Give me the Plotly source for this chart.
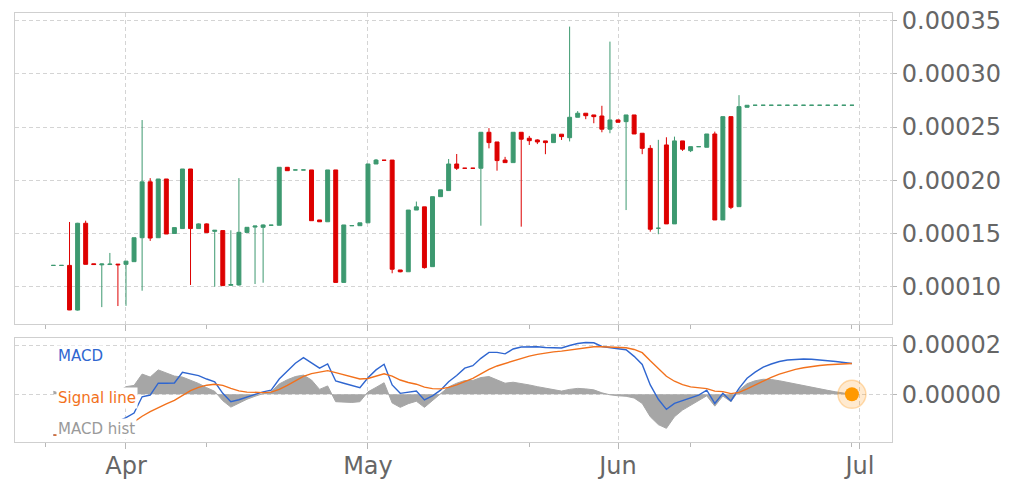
import pandas as pd
import plotly.graph_objects as go

# ---------------- data ----------------
start_date = "2023-03-23"
n_days = 100
dates = pd.date_range(start_date, periods=n_days, freq="D")

SCALE = 1e-6  # all values below are in units of 1e-6

# daily OHLC (Mar 23 .. Jun 30)
open_u = [120, 120, 120, 78, 159.6, 121.5, 120.5, 120.8, 121.2,
          121, 123.5, 146, 198.5, 146, 201.2, 150, 154.6, 210.6, 154.6,
          159, 152, 152.7, 101.3, 101.6, 151, 156, 155.8, 157.7, 157.7,
          212.2, 209.7, 209.7, 209.7, 162.7, 161, 209.7, 104, 157.3, 157.3,
          160, 215.3, 218.8, 219, 115.7, 114, 172, 175, 118.8, 184.6,
          190.3, 215.3, 211.3, 211.3, 211.3, 245.1, 236, 219, 216.6, 245.1,
          239.5, 237.9, 237, 235.4, 243.3, 240, 259.2, 263, 261.4, 260.4,
          248,
          256.7, 255.1, 261.4, 244.2, 230, 154.9, 233.2, 159, 237, 227.8,
          231.6, 231, 243.5, 162.7, 259.8, 175.2, 268.6, 270.5, 270.5, 270.5,
          270.5, 270.5, 270.5, 270.5, 270.5, 270.5, 270.5, 270.5, 270.5, 270.5]
high_u = [120, 120, 160.8, 160, 162, 121.5, 121.5, 131.7, 121.2,
          124, 146, 256.6, 202, 201.2, 201.2, 155.5, 210.6, 210.6, 159.5,
          159.5, 153, 152.7, 153, 202, 155.8, 157, 158.5, 157.9, 212.2,
          212.5, 209.7, 209.7, 209.7, 162.7, 209.7, 209.7, 158, 157.4, 160,
          215.3, 220, 218.8, 219, 115.7, 172, 180, 175, 184.6, 191,
          220, 224.7, 211.3, 211.3, 245.1, 249, 236, 222, 245.1, 245.1,
          241.7, 238.5, 237, 243.3, 243.3, 344.4, 265, 263, 261.4, 270,
          330.3,
          257, 261.4, 261.4, 244.2, 233, 238, 240.4, 241, 237, 231.6,
          231.6, 243.5, 245.7, 259.8, 259.8, 280, 270.5, 270.5, 270.5, 270.5,
          270.5, 270.5, 270.5, 270.5, 270.5, 270.5, 270.5, 270.5, 270.5, 270.5]
low_u = [120, 120, 78, 77.5, 121, 120.8, 80.8, 120.5, 81.8,
         82, 123.5, 96.2, 143, 146, 149.5, 150, 154.6, 101.6, 154.6,
         150.5, 100, 100.6, 101, 101, 151, 102.5, 103.7, 157.5, 157.7,
         209, 209.7, 209.7, 162, 161, 161, 104, 104, 157.3, 157.3,
         160, 215.3, 218.8, 112.6, 113.5, 114, 172, 117, 118.8, 184.6,
         190.3, 209.7, 211.3, 211.3, 157.3, 230, 209, 216.6, 216.6, 156.4,
         233.2, 234, 224.5, 235.4, 237.9, 236.5, 259.2, 257.4, 253.6, 245.1,
         244.2,
         254.5, 172, 243.5, 224.5, 151.7, 149.3, 159, 159, 227.6, 226.5,
         231.6, 231, 162.7, 162.7, 172.9, 175.2, 268.6, 270.5, 270.5, 270.5,
         270.5, 270.5, 270.5, 270.5, 270.5, 270.5, 270.5, 270.5, 270.5, 270.5]
close_u = [120, 120, 78.1, 159.6, 121, 120.8, 121.3, 121.2, 120.6,
           124, 146, 198.5, 145.7, 201.2, 149.5, 155.5, 210.6, 154.6, 159,
           150.8, 153, 101, 102, 151.1, 155.8, 157, 158, 157.8, 212.2,
           209, 209.7, 209.7, 162, 161, 209.7, 104, 158, 157.4, 160,
           215.3, 219, 218.8, 116.4, 114, 172, 175, 117.9, 184.6, 191,
           215.3, 211.3, 211.3, 211.3, 245.1, 235.4, 218.5, 216.6, 245.1, 238.6,
           237.2, 236, 235.4, 243.3, 241, 259.2, 263, 260.7, 259.8, 248,
           256.7,
           254.5, 261.4, 243.5, 230, 154, 154.9, 159, 237, 229.2, 231.6,
           231.6, 243.5, 162.7, 259.8, 174.6, 269.2, 270.5, 270.5, 270.5, 270.5,
           270.5, 270.5, 270.5, 270.5, 270.5, 270.5, 270.5, 270.5, 270.5, 270.5]

# MACD panel
macd_u = [-16.5, -16.8, -17.9, -14.8, -13.8, -13.0, -12.3, -11.6, -11.0,
          -9.5, -7.6, -1.0, -0.3, 4.5, 4.5, 4.6, 8.9, 8.2, 7.6, 6.2, 5.1, 0.4,
          -3.0, -2.2, -1.0, 0.0, 1.0, 1.7, 6.2, 9.5, 12.6, 14.9, 12.6, 10.6,
          12.3, 5.4, 4.5, 3.5, 2.7,
          6.7, 9.9, 12.2, 3.8, 0.4, 1.0, 1.3, -2.3, -0.6, 1.7, 5.1, 7.6, 10.6,
          11.6, 14.6, 17.0, 17.0, 16.4, 18.4, 19.2, 19.4, 19.3, 19.0, 19.0,
          18.8, 19.8, 20.6, 21.0, 20.9, 19.4, 18.8,
          18.5, 18.1, 15.4, 12.1, 3.8, -2.0, -6.1, -3.7, -2.5, -1.2, -0.3, 1.7,
          -3.7, 0.4, -2.7, 2.4, 6.5, 9.0, 11.0, 12.3, 13.3, 13.9, 14.2, 14.3,
          14.2, 14.0, 13.7, 13.3, 12.9, 12.5]
signal_u = [-16.5, -16.5, -16.8, -16.4, -15.9, -15.3, -14.7, -14.1, -13.5,
            -12.7, -11.2, -8.9, -7.0, -5.3, -3.9, -2.5, -0.4, 1.5, 2.8, 3.7,
            4.1, 3.6, 2.4, 1.4, 0.9, 0.7, 0.7, 0.9, 2.0, 3.6, 5.5, 7.3, 8.4,
            9.0, 9.6, 8.8, 7.9, 7.0, 6.2,
            6.4, 7.2, 8.3, 7.4, 5.8, 4.8, 4.1, 2.9, 2.3, 2.2, 2.8, 3.8, 5.2,
            6.5, 8.3, 10.1, 11.5, 12.5, 13.6, 14.6, 15.5, 16.2, 16.8, 17.2,
            17.5, 17.9, 18.4, 18.9, 19.3, 19.3, 19.2,
            19.1, 18.9, 18.2, 16.9, 13.6, 10.3, 7.3, 5.3, 3.9, 3.0, 2.5, 2.3,
            1.3, 1.1, 0.3, 0.8, 2.2, 3.8, 5.4, 6.9, 8.2, 9.3, 10.1, 10.8,
            11.3, 11.7, 12.0, 12.2, 12.4, 12.5]
hist_u = [1.2, 0.3, -0.8, 0.6, 0.8, 0.8, 0.9, 0.9, 1.0,
          3.1, 3.6, 8.2, 7.0, 9.9, 8.6, 7.4, 7.0, 5.8, 4.4, 2.7, 1.2, -2.6,
          -5.2, -3.6, -2.0, -0.8, 0.3, 1.0, 4.2, 5.9, 7.2, 7.8, 5.8, 2.0, 3.4,
          -3.0, -3.3, -3.3, -3.0,
          1.0, 2.8, 4.7, -3.5, -5.3, -3.8, -2.8, -5.3, -2.5, 0.4, 3.0, 4.5,
          5.6, 5.6, 6.8, 7.2, 5.8, 4.5, 4.9, 4.5, 3.8, 3.1, 2.4, 1.9, 1.3,
          2.0, 2.4, 2.2, 1.8, 0.6, -0.2,
          -0.6, -0.8, -1.5, -3.7, -9.1, -12.3, -13.8, -9.1, -6.4, -4.4, -2.7,
          -0.6, -4.8, -0.7, -3.0, 1.6, 4.3, 5.5, 6.1, 6.0, 5.5, 4.8, 4.2, 3.5,
          2.8, 2.2, 1.6, 1.0, 0.5, 0.0]

label_macd = "MACD"
label_signal = "Signal line"
label_hist = "MACD hist"


def sc(vals):
    return [v * SCALE for v in vals]


o, h, l, c = sc(open_u), sc(high_u), sc(low_u), sc(close_u)
macd, signal, hist = sc(macd_u), sc(signal_u), sc(hist_u)

# ---------------- styles ----------------
FONT = "DejaVu Sans"
GREEN = "#3D9970"
RED = "#DD0000"
BLUE = "#2f66d0"
ORANGE = "#f2711c"
GREY = "#a6a6a6"
GRID = "#d4d4d4"
AXLINE = "#cfcfcf"
TICKC = "#b8b8b8"
TXT = "#666666"
GRIDDASH = "4px,3px"

fig = go.Figure()

fig.add_trace(go.Candlestick(
    x=dates, open=o, high=h, low=l, close=c,
    increasing=dict(line=dict(color=GREEN, width=1), fillcolor=GREEN),
    decreasing=dict(line=dict(color=RED, width=1), fillcolor=RED),
    whiskerwidth=0, xaxis="x", yaxis="y", showlegend=False,
))

fig.add_trace(go.Scatter(
    x=dates, y=hist, mode="lines", fill="tozeroy",
    line=dict(color=GREY, width=1), fillcolor=GREY,
    xaxis="x2", yaxis="y2", showlegend=False,
))
fig.add_trace(go.Scatter(
    x=dates, y=macd, mode="lines", line=dict(color=BLUE, width=1.4),
    xaxis="x2", yaxis="y2", showlegend=False,
))
fig.add_trace(go.Scatter(
    x=dates, y=signal, mode="lines", line=dict(color=ORANGE, width=1.4),
    xaxis="x2", yaxis="y2", showlegend=False,
))
# last-value marker with halo
fig.add_trace(go.Scatter(
    x=[dates[-1]], y=[hist[-1]], mode="markers",
    marker=dict(size=28, color="rgba(255,160,40,0.22)",
                line=dict(color="rgba(255,160,40,0.35)", width=1.5)),
    xaxis="x2", yaxis="y2", showlegend=False,
))
fig.add_trace(go.Scatter(
    x=[dates[-1]], y=[hist[-1]], mode="markers",
    marker=dict(size=14, color="#ff9900"),
    xaxis="x2", yaxis="y2", showlegend=False,
))

x_range = ["2023-03-18 05:45", "2023-07-04 23:15"]

common_x = dict(
    range=x_range, type="date", dtick="M1", tick0="2023-01-01",
    ticks="outside", ticklen=6, tickcolor=TICKC, tickwidth=1,
    minor=dict(dtick=20 * 86400000, tick0="2023-03-22", ticks="outside",
               ticklen=4, tickcolor=TICKC, showgrid=False),
    showgrid=True, gridcolor=GRID, griddash=GRIDDASH, gridwidth=1,
    showline=True, mirror=True, linecolor=AXLINE, linewidth=1,
    zeroline=False,
)
common_y = dict(
    side="right", ticks="outside", ticklen=4, tickcolor=TICKC,
    tickformat=".5f", tickfont=dict(size=24, color=TXT, family=FONT),
    showgrid=True, gridcolor=GRID, griddash=GRIDDASH, gridwidth=1,
    showline=True, mirror=True, linecolor=AXLINE, linewidth=1,
    zeroline=False,
)

fig.update_layout(
    template="none",
    width=1014, height=486,
    margin=dict(l=15, r=122, t=13, b=44),
    paper_bgcolor="white", plot_bgcolor="white",
    font=dict(family=FONT, color=TXT),
    showlegend=False,
    xaxis=dict(common_x, anchor="y", showticklabels=False,
               rangeslider=dict(visible=False), domain=[0, 1]),
    xaxis2=dict(common_x, anchor="y2", matches="x", tickformat="%b",
                tickfont=dict(size=24, color=TXT, family=FONT),
                ticklabelstandoff=-4, domain=[0, 1]),
    yaxis=dict(common_y, domain=[0.275, 1], range=[6.49e-5, 3.572e-4],
               dtick=5e-5, tick0=0),
    yaxis2=dict(common_y, domain=[0, 0.2424], range=[-1.935e-5, 2.284e-5],
                dtick=2e-5, tick0=0),
)

ann_x = (56 - 15) / 877
for txt, yv, col in [(label_macd, 1.574e-5, BLUE),
                     (label_signal, -1.5e-6, ORANGE),
                     (label_hist, -1.408e-5, "#9a9a9a")]:
    fig.add_annotation(
        x=ann_x, xref="paper", xanchor="left",
        y=yv, yref="y2", yanchor="middle",
        text=txt, showarrow=False, bgcolor="white", borderpad=1,
        font=dict(size=15, color=col, family=FONT),
    )

fig.write_html("out.html", config={"displayModeBar": False},
               post_script="document.body.style.margin='0';")
